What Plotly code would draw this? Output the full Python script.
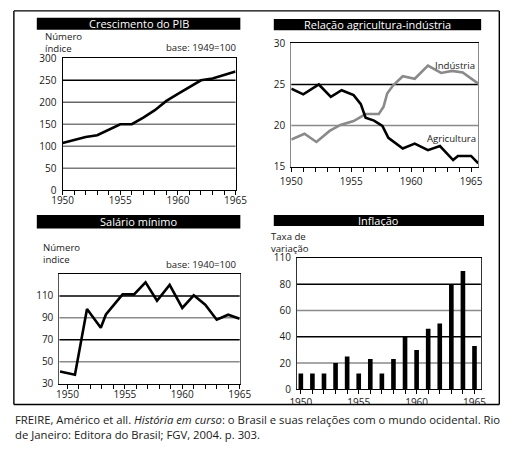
import plotly.graph_objects as go

W, H = 518, 457
FONT = "Open Sans"
INK = "#1a1a1a"
GRAY = "#8a8a8a"

# Crescimento do PIB (base: 1949=100)
pib_anos = list(range(1950, 1966))
pib = [107, 114, 121, 125, 137, 150, 150, 165, 182, 203, 219, 235, 250, 254, 262, 270]
pib_ticks = [0, 50, 100, 150, 200, 250, 300]

# Relação agricultura-indústria
agric_x = [1950, 1951, 1952.3, 1953.3, 1954.2, 1955.2, 1955.8, 1956.2, 1956.9, 1957.6,
           1958.1, 1959.3, 1960.3, 1961.4, 1962.4, 1963.5, 1963.9, 1965.0, 1965.6]
agricultura = [24.5, 23.8, 25.0, 23.5, 24.3, 23.7, 22.6, 20.95, 20.6, 19.95,
               18.5, 17.2, 17.8, 17.0, 17.5, 15.8, 16.3, 16.3, 15.4]
indus_x = [1950, 1951.1, 1952.1, 1953.2, 1954.1, 1955.2, 1956.2, 1957.3, 1957.7, 1958.0,
           1958.5, 1959.3, 1960.3, 1961.4, 1962.5, 1963.4, 1964.3, 1965.6]
industria = [18.3, 19.0, 18.0, 19.35, 20.07, 20.55, 21.4, 21.4, 22.3, 23.9,
             24.9, 26.0, 25.7, 27.3, 26.4, 26.65, 26.45, 25.1]
rel_ticks = [15, 20, 25, 30]

# Salário mínimo (base: 1940=100)
sal_x = [1949.35, 1950.65, 1951.7, 1952.9, 1953.35, 1954.8, 1955.8, 1956.8, 1957.8,
         1958.9, 1960, 1961, 1962, 1963, 1964, 1965]
salario = [41, 38, 98, 81, 93, 111.4, 111.4, 122.4, 105.6, 120, 99, 110.5, 102, 88.3, 92.8, 89.2]
sal_ticks = [30, 50, 70, 90, 110]

# Inflação (taxa de variação)
inf_anos = list(range(1950, 1966))
inflacao = [12, 12, 12, 20, 25, 12, 23, 12, 23, 40, 30, 46, 50, 80, 90, 33]
inf_ticks = [0, 20, 40, 60, 80, 100]
inf_ticktext = ["0", "20", "40", "60", "80", "110"]

year_labels = [1950, 1955, 1960, 1965]


def px_x(x):
    return x / W


def px_y(y):
    return 1 - y / H


def x_axis(x0, x1, rng, standoff=0):
    return dict(domain=[px_x(x0), px_x(x1)], range=rng, tickvals=year_labels,
                ticks="outside", ticklen=4, tickcolor="black", showgrid=False, zeroline=False,
                showline=True, mirror=True, linecolor="black", linewidth=1.2,
                tickfont=dict(size=10, color=INK), ticklabelstandoff=standoff,
                minor=dict(dtick=1, tick0=1950, ticks="outside", ticklen=4, tickcolor="black", showgrid=False))


def y_axis(y_top, y_bot, rng, vals, text=None, linecolor="black"):
    return dict(domain=[px_y(y_bot), px_y(y_top)], range=rng, tickvals=vals,
                ticktext=text or [str(v) for v in vals], ticks="", showgrid=False, zeroline=False,
                showline=True, mirror=True, linecolor=linecolor, linewidth=1.2,
                tickfont=dict(size=10, color=INK), ticklabelstandoff=3)


fig = go.Figure()
fig.add_trace(go.Scatter(x=pib_anos, y=pib, mode="lines", line=dict(color="black", width=2.6),
                         xaxis="x", yaxis="y"))
fig.add_trace(go.Scatter(x=indus_x, y=industria, mode="lines", line=dict(color=GRAY, width=2.6),
                         xaxis="x2", yaxis="y2"))
fig.add_trace(go.Scatter(x=agric_x, y=agricultura, mode="lines", line=dict(color="black", width=2.6),
                         xaxis="x2", yaxis="y2"))
fig.add_trace(go.Scatter(x=sal_x, y=salario, mode="lines", line=dict(color="black", width=2.6),
                         xaxis="x3", yaxis="y3"))
fig.add_trace(go.Bar(x=inf_anos, y=inflacao, width=0.4, marker=dict(color="black", line=dict(width=0)),
                     xaxis="x4", yaxis="y4"))

shapes = []
# gridlines, alternating black and gray
grids = [
    ("x", "y", pib_ticks[1:-1], ["#7a7a7a", "#7a7a7a", "#7a7a7a", "#666666", "black"]),
    ("x2", "y2", rel_ticks[1:-1], [GRAY, "black"]),
    ("x3", "y3", sal_ticks[1:], [GRAY, "black", GRAY, "black"]),
    ("x4", "y4", inf_ticks[1:-1], [GRAY, "black", GRAY, "black"]),
]
for xr, yr, vals, colors in grids:
    for v, c in zip(vals, colors):
        shapes.append(dict(type="line", xref=xr + " domain", yref=yr, x0=0, x1=1, y0=v, y1=v,
                           line=dict(color=c, width=1.5), layer="below"))

# black title bars
bars = [
    ("Crescimento do PIB", 27, 240, 10, 22.5),
    ("Relação agricultura-indústria", 275, 492, 11.5, 23),
    ("Salário mínimo", 27, 240, 214, 228),
    ("Inflação", 275, 495, 214, 225.5),
]
annotations = []
for text, x0, x1, y0, y1 in bars:
    shapes.append(dict(type="rect", xref="paper", yref="paper", x0=px_x(x0), x1=px_x(x1),
                       y0=px_y(y1), y1=px_y(y0), fillcolor="black", line=dict(width=0), layer="above"))
    annotations.append(dict(text=text, xref="paper", yref="paper", x=px_x((x0 + x1) / 2),
                            y=px_y((y0 + y1) / 2), xanchor="center", yanchor="middle", showarrow=False,
                            font=dict(family=FONT, size=11, color="white", weight=500)))

# cover under the frame, then the frame as four edges
shapes.append(dict(type="rect", xref="paper", yref="paper", x0=0, x1=1, y0=0, y1=px_y(410.5),
                   fillcolor="white", line=dict(width=0), layer="above"))
left, right, top, bottom = 3, 511, 3, 410
for x0, y0, x1, y1 in [(left, top, right, top), (left, bottom, right, bottom),
                       (left, top, left, bottom), (right, top, right, bottom)]:
    shapes.append(dict(type="line", xref="paper", yref="paper", x0=px_x(x0), y0=px_y(y0),
                       x1=px_x(x1), y1=px_y(y1), line=dict(color="black", width=1.4), layer="above"))

labels = [
    ("Número<br>índice", 33, 36, "left"), ("base: 1949=100", 238, 41, "right"),
    ("Número<br>indice", 31, 254, "left"), ("base: 1940=100", 238, 265, "right"),
    ("Taxa de<br>variação", 270, 242, "left"),
    ("Indústria", 488, 59, "right"), ("Agricultura", 489, 135, "right"),
]
for text, x, y, anchor in labels:
    annotations.append(dict(text=text, xref="paper", yref="paper", x=px_x(x), y=px_y(y),
                            xanchor=anchor, yanchor="middle", align="left", showarrow=False,
                            font=dict(family=FONT, size=9.6, color=INK)))

caption = [
    ("FREIRE, Américo et all. <i>História em curso</i>: o Brasil e suas relações com o mundo ocidental. Rio", 425),
    ("de Janeiro: Editora do Brasil; FGV, 2004. p. 303.", 441),
]
for text, y in caption:
    annotations.append(dict(text=text, xref="paper", yref="paper", x=px_x(2), y=px_y(y),
                            xanchor="left", yanchor="middle", showarrow=False,
                            font=dict(family=FONT, size=11.3, color=INK)))

fig.update_layout(
    width=W, height=H, margin=dict(l=0, r=0, t=0, b=0),
    paper_bgcolor="white", plot_bgcolor="white", showlegend=False,
    font=dict(family=FONT, size=10, color=INK),
    xaxis=x_axis(54, 235, [1950, 1965], standoff=-3),
    yaxis=y_axis(52, 188.3, [0, 300], pib_ticks),
    xaxis2=dict(x_axis(293.3, 489, [1950, 1965.6], standoff=1), anchor="y2"),
    yaxis2=dict(y_axis(36.6, 164, [15, 30], rel_ticks, linecolor=GRAY), anchor="x2"),
    xaxis3=dict(x_axis(50.7, 239.3, [1949.3, 1965], standoff=-3), anchor="y3"),
    yaxis3=dict(y_axis(275, 388.3, [30, 130], sal_ticks, linecolor="#555555"), anchor="x3"),
    xaxis4=dict(x_axis(299.3, 491.7, [1949.67, 1965.55], standoff=0), anchor="y4"),
    yaxis4=dict(y_axis(258.3, 394.3, [0, 100], inf_ticks, inf_ticktext, linecolor="#333333"), anchor="x4"),
    shapes=shapes, annotations=annotations,
)

# page margin off so the figure sits at the window's corner
fig.write_html("out.html", config={"displayModeBar": False},
               post_script="document.body.style.margin = '0';")
